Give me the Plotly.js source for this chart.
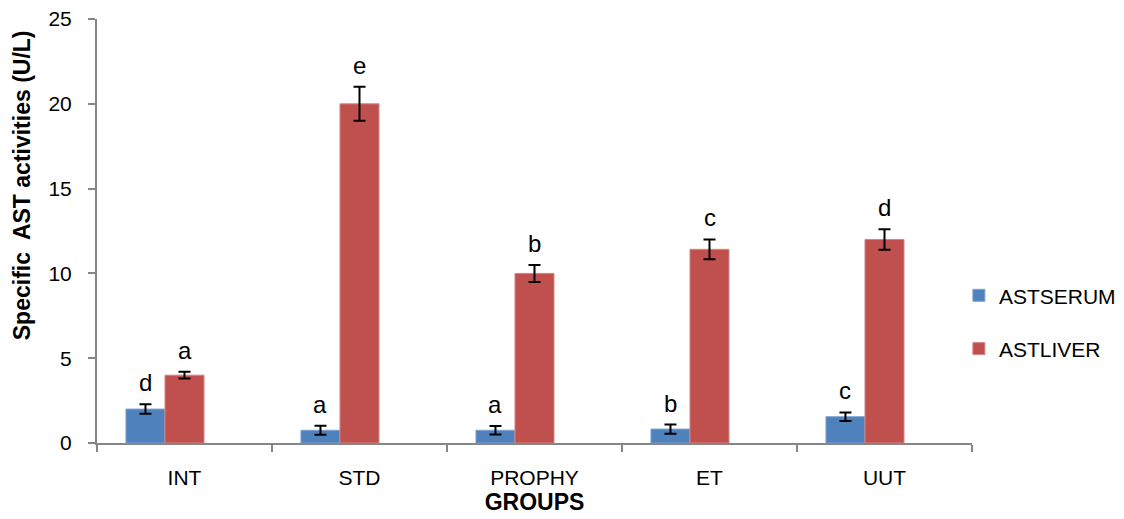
<!DOCTYPE html>
<html>
<head>
<meta charset="utf-8">
<script src="https://cdn.plot.ly/plotly-3.0.1.min.js"></script>
<style>html,body{margin:0;padding:0;background:#fff;}#chart{width:1124px;height:519px;}</style>
</head>
<body>
<div id="chart"></div>
<script>
const groups = ["INT", "STD", "PROPHY", "ET", "UUT"];
const serumValues = [2.0, 0.75, 0.75, 0.82, 1.55];
const serumErrors = [0.28, 0.27, 0.25, 0.27, 0.25];
const serumLetters = ["d", "a", "a", "b", "c"];
const liverValues = [4.0, 20.0, 10.0, 11.42, 12.0];
const liverErrors = [0.2, 1.0, 0.5, 0.58, 0.6];
const liverLetters = ["a", "e", "b", "c", "d"];
const yTicks = [0, 5, 10, 15, 20, 25];

const FONT = "Liberation Sans, Arial, sans-serif";

// layout constants (category units): two visible bars in a three-slot group
const BAR_W = 0.223;
const OFF_SERUM = -0.3345;
const OFF_LIVER = OFF_SERUM + BAR_W;
const PX_PER_CAT = 875 / groups.length;

const traces = [
  {
    type: "bar", name: "ASTSERUM", x: groups, y: serumValues, width: BAR_W, offset: OFF_SERUM,
    marker: {color: "#4F81BD", line: {color: "#7FA3D0", width: 1}},
    error_y: {type: "data", array: serumErrors, visible: true, color: "#000", thickness: 2, width: 6},
    legendgroup: "s"
  },
  {
    type: "bar", name: "ASTLIVER", x: groups, y: liverValues, width: BAR_W, offset: OFF_LIVER,
    marker: {color: "#C0504D", line: {color: "#D48583", width: 1}},
    error_y: {type: "data", array: liverErrors, visible: true, color: "#000", thickness: 2, width: 6},
    legendgroup: "l"
  }
];

const sShift = (OFF_SERUM + BAR_W / 2) * PX_PER_CAT;
const lShift = (OFF_LIVER + BAR_W / 2) * PX_PER_CAT;
const annotations = [];
groups.forEach((g, i) => {
  annotations.push({x: g, y: serumValues[i] + serumErrors[i], xref: "x", yref: "y", text: serumLetters[i],
    showarrow: false, xshift: sShift, yshift: 6, yanchor: "bottom", font: {family: FONT, size: 24, color: "#000"}});
  annotations.push({x: g, y: liverValues[i] + liverErrors[i], xref: "x", yref: "y", text: liverLetters[i],
    showarrow: false, xshift: lShift, yshift: 6, yanchor: "bottom", font: {family: FONT, size: 24, color: "#000"}});
});
annotations.push({
  text: "<b>Specific  AST activities (U/L)</b>", xref: "paper", yref: "paper",
  x: -0.0857, y: 0.608, xanchor: "center", yanchor: "middle", textangle: -90, showarrow: false,
  font: {family: FONT, size: 23, color: "#000"}
});

const layout = {
  width: 1124, height: 519,
  margin: {l: 97, r: 152, t: 19, b: 76, pad: 0, autoexpand: false},
  paper_bgcolor: "#fff", plot_bgcolor: "#fff",
  barmode: "overlay",
  font: {family: FONT, size: 21, color: "#000"},
  xaxis: {
    type: "category", tickson: "boundaries", ticks: "outside", ticklen: 7, tickwidth: 2, tickcolor: "#868686",
    showline: true, linecolor: "#868686", linewidth: 2, showgrid: false, zeroline: false,
    tickfont: {family: FONT, size: 21, color: "#000"}, ticklabelstandoff: 15,
    title: {text: "<b>GROUPS</b>", font: {family: FONT, size: 23, color: "#000"}, standoff: 2}
  },
  yaxis: {
    range: [0, 25], tickvals: yTicks, ticktext: yTicks.map(String), ticks: "outside", ticklen: 7, tickwidth: 2, tickcolor: "#868686",
    showline: true, linecolor: "#868686", linewidth: 2, showgrid: false, zeroline: false,
    tickfont: {family: FONT, size: 21, color: "#000"}, ticklabelstandoff: 12
  },
  showlegend: true,
  legend: {x: 0.985, y: 0.285, xanchor: "left", yanchor: "middle", traceorder: "grouped", tracegroupgap: 23,
    font: {family: FONT, size: 21, color: "#000"}, bgcolor: "rgba(0,0,0,0)", itemwidth: 30},
  annotations: annotations
};

Plotly.newPlot("chart", traces, layout, {displayModeBar: false, staticPlot: true});
</script>
</body>
</html>
